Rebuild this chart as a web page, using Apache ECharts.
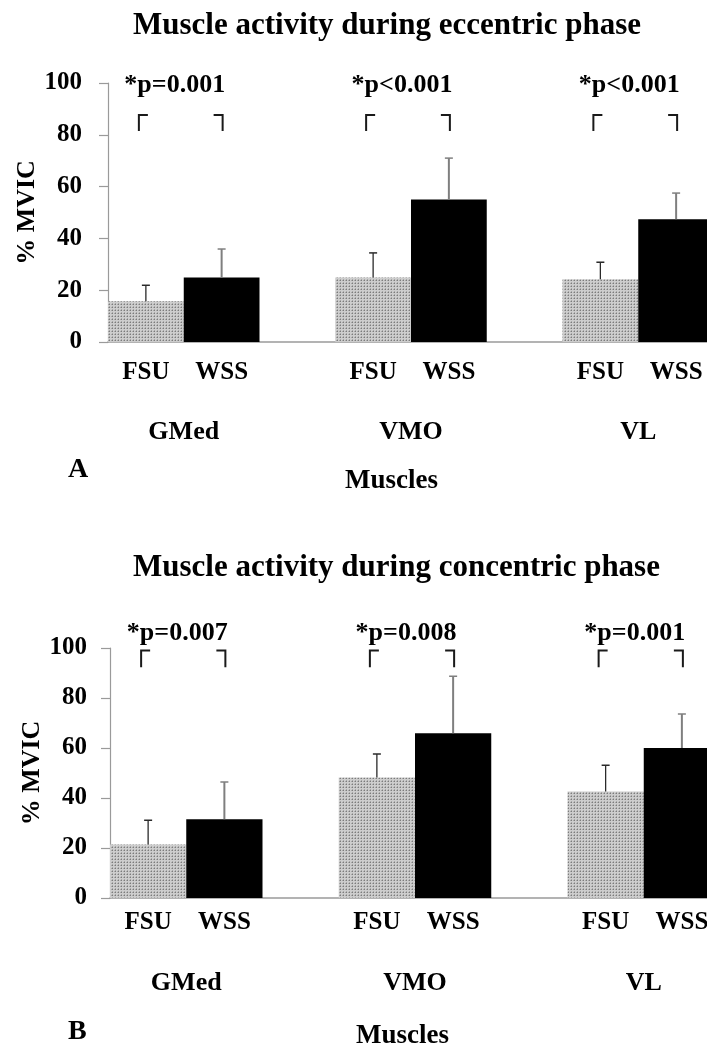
<!DOCTYPE html>
<html>
<head>
<meta charset="utf-8">
<script src="https://cdn.jsdelivr.net/npm/echarts@6/dist/echarts.min.js"></script>
<style>
html,body{margin:0;padding:0;background:#fff;}
#c{width:707px;height:1056px;}
</style>
</head>
<body>
<div id="c"></div>
<script>
// ---- data ----
var muscles = ['GMed', 'VMO', 'VL'];
var groups = ['FSU', 'WSS'];
var yTicks = [0, 20, 40, 60, 80, 100];

// Panel A: eccentric phase (% MVIC)
var eccFSU = [15.7, 24.9, 24.2];
var eccWSS = [24.9, 55.0, 47.4];
var eccFSUsd = [6.2, 9.5, 6.6];
var eccWSSsd = [11.0, 16.0, 10.1];
var eccP = ['*p=0.001', '*p<0.001', '*p<0.001'];

// Panel B: concentric phase (% MVIC)
var conFSU = [21.4, 48.2, 42.6];
var conWSS = [31.5, 65.9, 60.0];
var conFSUsd = [9.7, 9.4, 10.5];
var conWSSsd = [14.9, 22.8, 13.6];
var conP = ['*p=0.007', '*p=0.008', '*p=0.001'];

// annotation levels (axis units)
var eccPLevel = 99.2, eccBracket = [87.6, 81.5];
var conPLevel = 106, conBracket = [99, 92.3];

// ---- helpers ----
var FONT = "'Liberation Serif','Times New Roman',serif";

function makePattern() {
  var c = document.createElement('canvas');
  c.width = 3; c.height = 3;
  var ctx = c.getContext('2d');
  ctx.fillStyle = '#cdcdcd';
  ctx.fillRect(0, 0, 3, 3);
  ctx.fillStyle = '#7c7c7c';
  ctx.fillRect(1, 1, 1, 1);
  ctx.fillStyle = '#a8a8a8';
  ctx.fillRect(0, 1, 1, 1);
  ctx.fillRect(1, 0, 1, 1);
  return c;
}
var pattern = { image: makePattern(), repeat: 'repeat' };

// 8 bar slots: FSU, WSS, gap, FSU, WSS, gap, FSU, WSS
var slotLabels = [];
muscles.forEach(function (m, i) {
  slotLabels.push(groups[0], groups[1]);
  if (i < muscles.length - 1) slotLabels.push('');
});
// 9 boundary points; muscle name at the boundary between its two bars
var muscleAxis = [];
for (var k = 0; k <= slotLabels.length; k++) muscleAxis.push('');
muscles.forEach(function (m, i) { muscleAxis[3 * i + 1] = m; });

function barData(fsu, wss) {
  var d = slotLabels.map(function () { return '-'; });
  muscles.forEach(function (m, i) {
    d[3 * i] = { value: fsu[i], itemStyle: { color: pattern } };
    d[3 * i + 1] = { value: wss[i], itemStyle: { color: '#000' } };
  });
  return d;
}
function errData(fsu, wss, fsd, wsd) {
  var d = [];
  muscles.forEach(function (m, i) {
    d.push([3 * i, fsu[i], fsu[i] + fsd[i], 0]);
    d.push([3 * i + 1, wss[i], wss[i] + wsd[i], 1]);
  });
  return d;
}
function bracketData(lv) {
  var d = [];
  muscles.forEach(function (m, i) {
    d.push([3 * i, lv[0], lv[1], 0]);
    d.push([3 * i + 1, lv[0], lv[1], 1]);
  });
  return d;
}
function pData(labels, level) {
  return muscles.map(function (m, i) { return { value: [3 * i + 1, level], name: labels[i] }; });
}

function renderErr(params, api) {
  var base = api.coord([api.value(0), api.value(1)]);
  var top = api.coord([api.value(0), api.value(2)]);
  var isW = api.value(3) === 1;
  var col = isW ? '#7f7f7f' : '#2a2a2a';
  var lw = isW ? 2 : 1.3;
  return {
    type: 'group',
    children: [
      { type: 'line', shape: { x1: base[0], y1: base[1], x2: top[0], y2: top[1] }, style: { stroke: col, lineWidth: lw } },
      { type: 'line', shape: { x1: top[0] - 4, y1: top[1], x2: top[0] + 4, y2: top[1] }, style: { stroke: col, lineWidth: 1.5 } }
    ]
  };
}
function renderBracket(params, api) {
  var a = api.coord([api.value(0), api.value(1)]);
  var b = api.coord([api.value(0), api.value(2)]);
  var right = api.value(3) === 1;
  var xv = right ? a[0] + 1 : a[0] - 7;
  var xh = right ? a[0] - 8 : a[0] + 2;
  return {
    type: 'polyline',
    shape: { points: [[xh, a[1]], [xv, a[1]], [xv, b[1]]] },
    style: { stroke: '#1a1a1a', lineWidth: 2, fill: null }
  };
}

function yAxisOpt(grid, margin, nameGap) {
  return {
    type: 'value', gridIndex: grid, min: 0, max: 100, interval: 20,
    name: '% MVIC', nameLocation: 'middle', nameGap: nameGap, nameMoveOverlap: false,
    nameTextStyle: { fontFamily: FONT, fontWeight: 'bold', fontSize: 26, color: '#000' },
    axisLine: { show: true, lineStyle: { color: '#9a9a9a', width: 1.2 } },
    axisTick: { show: true, length: 9, lineStyle: { color: '#9a9a9a', width: 1.2 } },
    splitLine: { show: false },
    axisLabel: {
      margin: margin, fontFamily: FONT, fontWeight: 'bold', fontSize: 25, color: '#000',
      formatter: function (v) { return yTicks.indexOf(v) >= 0 ? String(v) : ''; }
    }
  };
}
function xSlotAxis(grid, margin) {
  return {
    type: 'category', gridIndex: grid, position: 'bottom', data: slotLabels,
    axisLine: { show: true, lineStyle: { color: '#9a9a9a', width: 1.5 } },
    axisTick: { show: false },
    axisLabel: { interval: 0, margin: margin, fontFamily: FONT, fontWeight: 'bold', fontSize: 25, color: '#000' }
  };
}
function xMuscleAxis(grid, margin) {
  return {
    type: 'category', gridIndex: grid, position: 'bottom', data: muscleAxis, boundaryGap: false,
    axisLine: { show: false, onZero: false }, axisTick: { show: false }, splitLine: { show: false },
    axisLabel: { interval: 0, margin: margin, fontFamily: FONT, fontWeight: 'bold', fontSize: 26, color: '#000' }
  };
}
function panelSeries(idx, fsu, wss, fsd, wsd, pl, plevel, blev) {
  return [
    { type: 'bar', xAxisIndex: idx * 2, yAxisIndex: idx, data: barData(fsu, wss),
      barWidth: '100%', barGap: '0%', animation: false },
    { type: 'custom', xAxisIndex: idx * 2, yAxisIndex: idx, renderItem: renderErr,
      data: errData(fsu, wss, fsd, wsd), z: 5, animation: false },
    { type: 'custom', xAxisIndex: idx * 2, yAxisIndex: idx, renderItem: renderBracket,
      data: bracketData(blev), z: 5, animation: false, clip: false },
    { type: 'scatter', xAxisIndex: idx * 2 + 1, yAxisIndex: idx, symbolSize: 0, clip: false,
      data: pData(pl, plevel), animation: false, silent: true,
      itemStyle: { opacity: 1 },
      label: { show: true, position: 'inside', offset: [-9, 0], formatter: '{b}', opacity: 1,
        fontFamily: FONT, fontWeight: 'bold', fontSize: 26, color: '#000' } }
  ];
}

function titleText(text, left, top, size) {
  return { text: text, left: left, top: top, padding: 0,
    textStyle: { fontFamily: FONT, fontWeight: 'bold', fontSize: size, color: '#000' } };
}

var chart = echarts.init(document.getElementById('c'), null, { renderer: 'canvas' });
chart.setOption({
  backgroundColor: '#fff',
  animation: false,
  title: [
    titleText('Muscle activity during eccentric phase', 133, 10, 31),
    titleText('Muscle activity during concentric phase', 133, 552, 31),
    titleText('A', 68, 456, 28),
    titleText('Muscles', 345, 468, 27),
    titleText('B', 68, 1018, 28),
    titleText('Muscles', 356, 1023, 27)
  ],
  grid: [
    { left: 108, top: 83, width: 606, height: 259, outerBoundsMode: 'none', containLabel: false },
    { left: 110, top: 648, width: 610, height: 250, outerBoundsMode: 'none', containLabel: false }
  ],
  xAxis: [xSlotAxis(0, 18), xMuscleAxis(0, 77), xSlotAxis(1, 12), xMuscleAxis(1, 72)],
  yAxis: [yAxisOpt(0, 26, 68), yAxisOpt(1, 23, 65)],
  series: [].concat(
    panelSeries(0, eccFSU, eccWSS, eccFSUsd, eccWSSsd, eccP, eccPLevel, eccBracket),
    panelSeries(1, conFSU, conWSS, conFSUsd, conWSSsd, conP, conPLevel, conBracket)
  )
});
</script>
</body>
</html>
